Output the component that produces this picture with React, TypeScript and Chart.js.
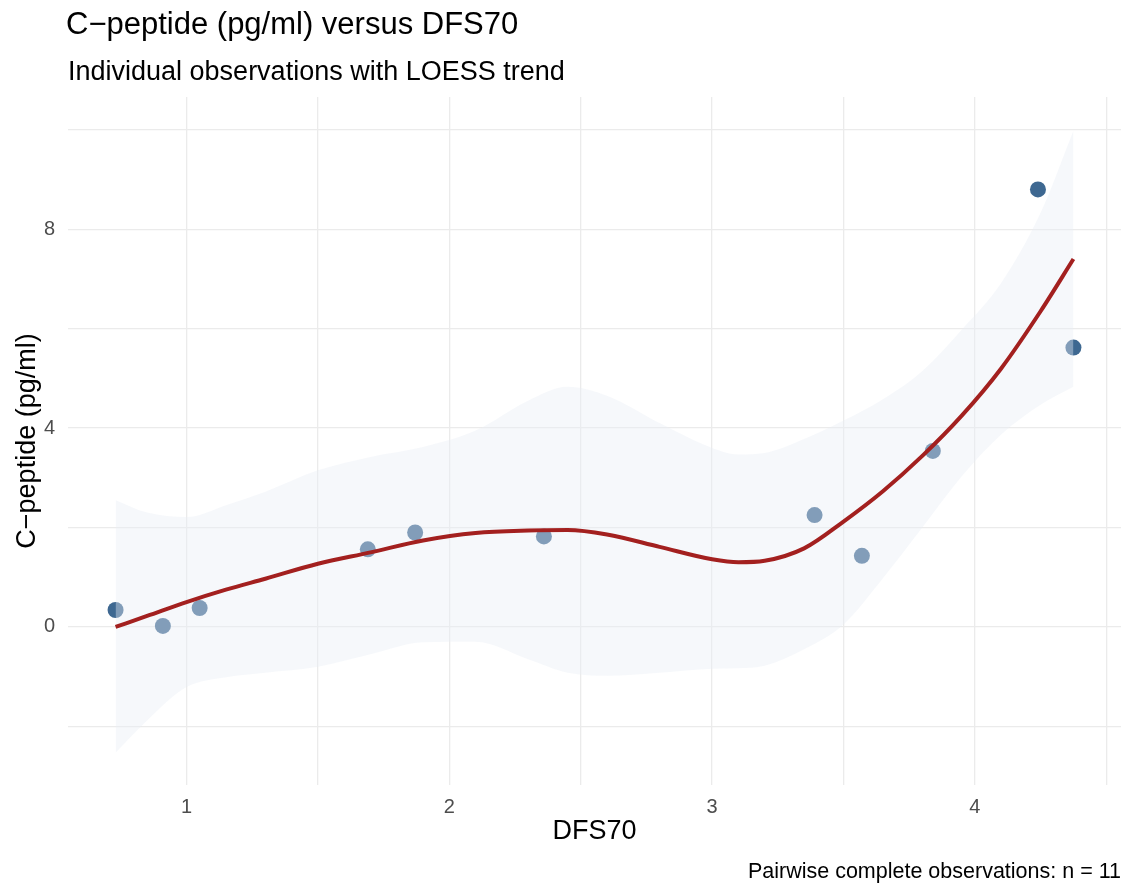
import React, { useRef, useEffect } from 'react';
import { Chart, registerables } from 'chart.js';
import type { Plugin } from 'chart.js';

Chart.register(...registerables);

// observations
const dfs70 = [0.73, 0.91, 1.05, 1.69, 1.87, 2.36, 3.39, 3.57, 3.84, 4.24, 4.375];
const cPeptide = [0.34, 0.02, 0.38, 1.56, 1.9, 1.82, 2.25, 1.43, 3.54, 8.8, 5.62];

// LOESS trend
const trendX = [0.73, 0.85, 1.0, 1.15, 1.3, 1.5, 1.7, 1.9, 2.1, 2.3, 2.45, 2.6, 2.8, 3.0, 3.1, 3.2, 3.35, 3.5, 3.65, 3.8, 3.95, 4.1, 4.25, 4.375];
const trendFit = [0.0, 0.22, 0.5, 0.75, 0.97, 1.27, 1.5, 1.74, 1.89, 1.94, 1.95, 1.86, 1.61, 1.36, 1.3, 1.33, 1.58, 2.12, 2.73, 3.44, 4.25, 5.2, 6.35, 7.4];
const trendUpper = [2.55, 2.3, 2.21, 2.45, 2.72, 3.15, 3.42, 3.62, 3.95, 4.55, 4.83, 4.65, 4.1, 3.6, 3.47, 3.5, 3.78, 4.15, 4.58, 5.15, 5.98, 6.92, 8.33, 9.98];
const trendLower = [-2.53, -1.88, -1.21, -1.01, -0.92, -0.8, -0.55, -0.31, -0.3, -0.65, -0.92, -0.98, -0.92, -0.84, -0.83, -0.78, -0.45, 0.05, 0.98, 2.0, 3.03, 3.87, 4.47, 4.83];

const xTicks = [1, 1.5, 2, 2.5, 3, 3.5, 4, 4.5];
const xLabelled = [1, 2, 3, 4];
const yTicks = [-2, 0, 2, 4, 6, 8, 10];
const yLabelled = [0, 4, 8];

const titleText = 'C−peptide (pg/ml) versus DFS70';
const subtitleText = 'Individual observations with LOESS trend';
const captionText = 'Pairwise complete observations: n = 11';

const FONT = '"Liberation Sans", Arial, sans-serif';

const textPlugin: Plugin = {
  id: 'plotText',
  afterDraw(chart) {
    const { ctx, chartArea } = chart;
    ctx.save();
    ctx.fillStyle = '#000000';
    ctx.textBaseline = 'alphabetic';
    ctx.textAlign = 'left';
    ctx.font = `31px ${FONT}`;
    ctx.fillText(titleText, chartArea.left - 2, 34);
    ctx.font = `27px ${FONT}`;
    ctx.fillText(subtitleText, chartArea.left, 80);
    ctx.textAlign = 'right';
    ctx.font = `21.5px ${FONT}`;
    ctx.fillText(captionText, chartArea.right, 878);
    ctx.restore();
  },
};

const toPoints = (xs: number[], ys: number[]) => xs.map((x, i) => ({ x, y: ys[i] }));

const App: React.FC = () => {
  const chartRef = useRef<HTMLCanvasElement>(null);
  const chartInstance = useRef<Chart | null>(null);

  useEffect(() => {
    if (!chartRef.current) return;
    if (chartInstance.current) chartInstance.current.destroy();

    chartInstance.current = new Chart(chartRef.current, {
      type: 'line',
      data: {
        datasets: [
          {
            label: 'LOESS',
            data: toPoints(trendX, trendFit),
            borderColor: '#a3201f',
            borderWidth: 4,
            pointRadius: 0,
            cubicInterpolationMode: 'monotone',
            fill: false,
          },
          {
            label: 'upper',
            data: toPoints(trendX, trendUpper),
            borderWidth: 0,
            borderColor: 'transparent',
            pointRadius: 0,
            cubicInterpolationMode: 'monotone',
            backgroundColor: 'rgba(232, 237, 245, 0.4)',
            fill: '+1',
          },
          {
            label: 'lower',
            data: toPoints(trendX, trendLower),
            borderWidth: 0,
            borderColor: 'transparent',
            pointRadius: 0,
            cubicInterpolationMode: 'monotone',
            fill: false,
          },
          {
            type: 'scatter',
            label: 'observations',
            data: toPoints(dfs70, cPeptide),
            pointRadius: 8,
            pointBorderWidth: 0,
            pointBackgroundColor: '#3e6891',
            showLine: false,
          } as any,
        ],
      },
      options: {
        responsive: false,
        animation: false,
        layout: { padding: { top: 97, right: 13, left: 0, bottom: 0 } },
        plugins: {
          legend: { display: false },
          tooltip: { enabled: false },
        },
        scales: {
          x: {
            type: 'linear',
            min: 0.549,
            max: 4.556,
            afterBuildTicks: (scale) => {
              scale.ticks = xTicks.map((v) => ({ value: v }));
            },
            afterFit: (scale) => {
              scale.height = 109;
            },
            border: { display: false },
            grid: { color: '#ebebeb', lineWidth: 1.3, drawTicks: false },
            ticks: {
              color: '#4d4d4d',
              font: { family: FONT, size: 20 },
              padding: 10,
              maxRotation: 0,
              autoSkip: false,
              callback: (value) => (xLabelled.includes(Number(value)) ? String(value) : ''),
            },
            title: {
              display: true,
              text: 'DFS70',
              color: '#000000',
              font: { family: FONT, size: 27 },
              padding: { top: 0, bottom: 46 },
            },
          },
          y: {
            type: 'linear',
            min: -3.18,
            max: 10.66,
            afterBuildTicks: (scale) => {
              scale.ticks = yTicks.map((v) => ({ value: v }));
            },
            afterFit: (scale) => {
              scale.width = 68;
            },
            border: { display: false },
            grid: { color: '#ebebeb', lineWidth: 1.3, drawTicks: false },
            ticks: {
              color: '#4d4d4d',
              font: { family: FONT, size: 20 },
              padding: 13,
              autoSkip: false,
              callback: (value) => (yLabelled.includes(Number(value)) ? String(value) : ''),
            },
            title: {
              display: true,
              text: 'C−peptide (pg/ml)',
              color: '#000000',
              font: { family: FONT, size: 27 },
              padding: { top: 11, bottom: 0 },
            },
          },
        },
      },
      plugins: [textPlugin],
    });

    return () => {
      if (chartInstance.current) {
        chartInstance.current.destroy();
        chartInstance.current = null;
      }
    };
  }, []);

  return (
    <div style={{ position: 'fixed', left: 0, top: 0, width: 1134, height: 894, background: '#ffffff' }}>
      <canvas ref={chartRef} width={1134} height={894} style={{ display: 'block' }} />
    </div>
  );
};

export default App;
